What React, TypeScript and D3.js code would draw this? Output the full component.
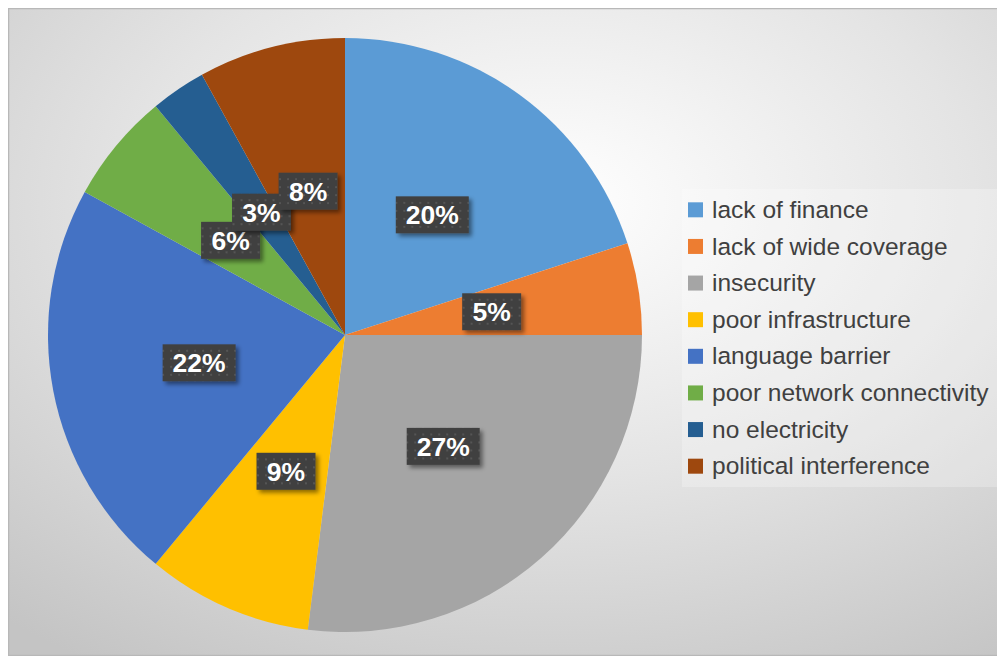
import React from "react";
import * as d3 from "d3";

const categories = [
  "lack of finance",
  "lack of wide coverage",
  "insecurity",
  "poor infrastructure",
  "language barrier",
  "poor network connectivity",
  "no electricity",
  "political interference",
];
const values = [20, 5, 27, 9, 22, 6, 3, 8];
const colors = ["#5B9BD5", "#ED7D31", "#A5A5A5", "#FFC000", "#4472C4", "#70AD47", "#255E91", "#9E480E"];

const W = 992;
const H = 648;
const cx = 337;
const cy = 327;
const R = 297;

export default function App() {
  const pie = d3.pie<number>().sort(null).value((d) => d);
  const arcs = pie(values);
  const arc = d3.arc<d3.PieArcDatum<number>>().innerRadius(0).outerRadius(R);
  const total = d3.sum(values);
  const legendY = d3.scaleBand<number>().domain(d3.range(categories.length)).range([183, 476]);

  return (
    <svg width={W} height={H} style={{ display: "block" }} fontFamily="'Liberation Sans', Arial, sans-serif">
      <defs>
        <radialGradient id="bg" cx="0.55" cy="0.3" r="0.85">
          <stop offset="0" stopColor="#ffffff" />
          <stop offset="0.5" stopColor="#e4e4e4" />
          <stop offset="1" stopColor="#c4c4c4" />
        </radialGradient>
        <pattern id="dots" width="8" height="8" patternUnits="userSpaceOnUse">
          <rect width="8" height="8" fill="#404040" />
          <circle cx="4" cy="4" r="0.9" fill="#5e5e5e" />
        </pattern>
        <filter id="sh" x="-20%" y="-20%" width="150%" height="160%">
          <feDropShadow dx="3" dy="3" stdDeviation="2" floodColor="#000" floodOpacity="0.45" />
        </filter>
      </defs>
      <rect x={0.5} y={0.5} width={W - 1} height={H - 1} fill="url(#bg)" stroke="#b8b8b8" strokeWidth={1.5} />
      <g transform={`translate(${cx},${cy})`}>
        {arcs.map((a, i) => (
          <path key={i} d={arc(a) || ""} fill={colors[i]} />
        ))}
        {arcs.map((a, i) => {
          const [x, y] = arc.centroid(a);
          const label = `${Math.round((values[i] / total) * 100)}%`;
          const bw = label.length === 3 ? 73 : 59;
          const bh = 37;
          return (
            <g key={"l" + i} transform={`translate(${x},${y})`}>
              <rect x={-bw / 2} y={-bh / 2} width={bw} height={bh} fill="url(#dots)" filter="url(#sh)" />
              <text textAnchor="middle" dy="0.36em" fill="#ffffff" fontSize={26.5} fontWeight="bold">
                {label}
              </text>
            </g>
          );
        })}
      </g>
      <rect x={674} y={181} width={317} height={298} fill="#ffffff" opacity={0.25} />
      {categories.map((c, i) => {
        const y = (legendY(i) as number) + legendY.bandwidth() / 2;
        return (
          <g key={"lg" + i} transform={`translate(680,${y})`}>
            <rect x={0} y={-7} width={15} height={15} fill={colors[i]} />
            <text x={24} dy="0.35em" fontSize={24.5} fill="#404040">
              {c}
            </text>
          </g>
        );
      })}
    </svg>
  );
}
